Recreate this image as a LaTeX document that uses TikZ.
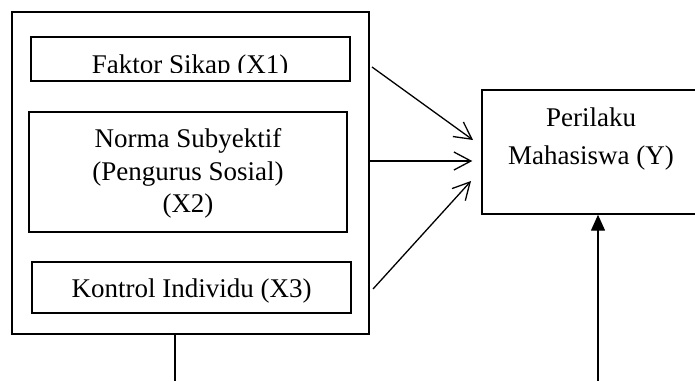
\documentclass[tikz,border=0pt]{standalone}
\usepackage{fontspec}
\setmainfont{Liberation Serif}
\usetikzlibrary{arrows.meta}
\begin{document}
\begin{tikzpicture}[x=1pt,y=-1pt,
  box/.style={draw, line width=1.4pt, inner sep=0pt},
  lbl/.style={font=\fontsize{27}{32.5}\selectfont, inner sep=0pt, anchor=base},
  conn/.style={line width=1.3pt, -{Straight Barb[length=17pt,width=18pt,line width=1.3pt]}},
  uparrow/.style={line width=1.4pt, -{Triangle[length=16pt,width=14pt]}}]
\useasboundingbox (0,0) rectangle (695,381);
% outer group box
\node[box, minimum width=357pt, minimum height=322pt] (outer) at (190.5,173) {};
% X1
\node[box, minimum width=319pt, minimum height=44pt] (x1) at (190.5,59) {};
\begin{scope}
  \clip (31,37) rectangle (350,72.7);
  \node[lbl] (x1t) at (190,73) {Faktor Sikap (X1)};
\end{scope}
% X2
\node[box, minimum width=318pt, minimum height=120pt] (x2) at (188,172) {};
\node[lbl] (x2a) at (188,147.5) {Norma Subyektif};
\node[lbl] (x2b) at (188,180) {(Pengurus Sosial)};
\node[lbl] (x2c) at (188,212.5) {(X2)};
% X3
\node[box, minimum width=319pt, minimum height=51pt] (x3) at (191.5,287.5) {};
\node[lbl] (x3t) at (191.5,297) {Kontrol Individu (X3)};
% Y
\node[box, minimum width=218pt, minimum height=124pt] (y) at (591,152) {};
\node[lbl] (yt1) at (591,126) {Perilaku};
\node[lbl] (yt2) at (591,164) {Mahasiswa (Y)};
% connectors
\coordinate (s1) at (372,67);
\coordinate (e1) at (473,140);
\coordinate (e3) at (471,181);
\coordinate (s3) at (373,289);
\draw[conn] (s1) -- (e1);
\draw[conn] (outer.east |- 0,161) -- ([xshift=-9pt]y.west |- 0,161);
\draw[conn] (s3) -- (e3);
\coordinate (ob) at (175,381);
\draw[line width=1.4pt] (outer.south -| ob) -- (ob);
\coordinate (yb) at (598,381);
\draw[uparrow] (yb) -- (y.south -| yb);
\end{tikzpicture}
\end{document}
